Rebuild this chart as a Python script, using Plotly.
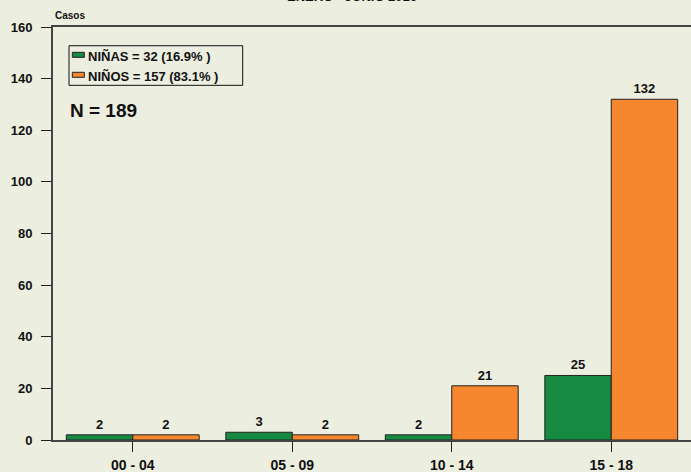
import plotly.graph_objects as go

categories = ["00 - 04", "05 - 09", "10 - 14", "15 - 18"]
ninas = [2, 3, 2, 25]
ninos = [2, 2, 21, 132]
y_ticks = [0, 20, 40, 60, 80, 100, 120, 140, 160]
series_names = ["NIÑAS = 32 (16.9% )", "NIÑOS = 157 (83.1% )"]
title_text = "ENERO - JUNIO 2016"
y_title = "Casos"
total_text = "N = 189"

BG = "#ECEEE0"
GREEN = "#168A42"
ORANGE = "#F6872F"
EDGE = "#222222"
AXIS = "#444444"
FONT = "Liberation Sans"
TXT = "#111111"

fig = go.Figure()
for vals, name, col in [(ninas, series_names[0], GREEN), (ninos, series_names[1], ORANGE)]:
    fig.add_trace(go.Bar(
        x=categories, y=vals, name=name,
        marker=dict(color=col, line=dict(color=EDGE, width=1)),
        text=vals, textposition="outside", cliponaxis=False,
        textfont=dict(family=FONT, size=13, color=TXT, weight="bold"),
        showlegend=False,
    ))

# manual legend (paper coordinates)
shapes = [
    dict(type="rect", xref="paper", yref="paper", x0=0.0251, x1=0.2973, y0=0.8588, y1=0.9547,
         line=dict(color=TXT, width=1), fillcolor="rgba(0,0,0,0)"),
    dict(type="rect", xref="paper", yref="paper", x0=0.0303, x1=0.0491, y0=0.9266, y1=0.9387,
         line=dict(color=EDGE, width=1), fillcolor=GREEN),
    dict(type="rect", xref="paper", yref="paper", x0=0.0303, x1=0.0491, y0=0.8782, y1=0.8903,
         line=dict(color=EDGE, width=1), fillcolor=ORANGE),
]

annotations = [
    dict(text="<b>%s</b>" % title_text, xref="paper", yref="paper",
         x=0.469, y=1.052, xanchor="center", yanchor="bottom", showarrow=False,
         font=dict(family=FONT, size=13, color=TXT)),
    dict(text="<b>%s</b>" % y_title, xref="paper", yref="paper",
         x=0.0, y=1.029, xanchor="left", yanchor="middle", showarrow=False,
         font=dict(family=FONT, size=10, color=TXT)),
    dict(text="<b>%s</b>" % total_text, xref="paper", yref="paper",
         x=0.023, y=0.799, xanchor="left", yanchor="middle", showarrow=False,
         font=dict(family=FONT, size=19, color=TXT)),
    dict(text="<b>%s</b>" % series_names[0], xref="paper", yref="paper",
         x=0.051, y=0.9281, xanchor="left", yanchor="middle", showarrow=False,
         font=dict(family=FONT, size=13, color=TXT)),
    dict(text="<b>%s</b>" % series_names[1], xref="paper", yref="paper",
         x=0.051, y=0.8797, xanchor="left", yanchor="middle", showarrow=False,
         font=dict(family=FONT, size=13, color=TXT)),
]

fig.update_layout(
    width=691, height=472,
    margin=dict(l=53, r=0, t=27, b=32),
    paper_bgcolor=BG, plot_bgcolor=BG,
    barmode="group", bargap=0.167, bargroupgap=0,
    font=dict(family=FONT, color=TXT),
    showlegend=False,
    shapes=shapes,
    annotations=annotations,
    xaxis=dict(
        range=[-0.5, 3.5], automargin=False,
        showline=True, linecolor=AXIS, linewidth=2, mirror=True,
        ticks="outside", ticklen=10, tickcolor=EDGE, tickwidth=1,
        ticklabelstandoff=1,
        tickfont=dict(family=FONT, size=14, color=TXT, weight="bold"),
        showgrid=False, zeroline=False,
    ),
    yaxis=dict(
        range=[0, 160], tickvals=y_ticks, automargin=False,
        showline=True, linecolor=AXIS, linewidth=2,
        ticks="outside", ticklen=10, tickcolor=EDGE, tickwidth=1,
        ticklabelstandoff=6,
        tickfont=dict(family=FONT, size=13, color=TXT, weight="bold"),
        showgrid=False, zeroline=False,
    ),
)

fig.write_html("out.html", config={"displayModeBar": False},
               post_script="document.body.style.margin='0px';document.body.style.overflow='hidden';")
